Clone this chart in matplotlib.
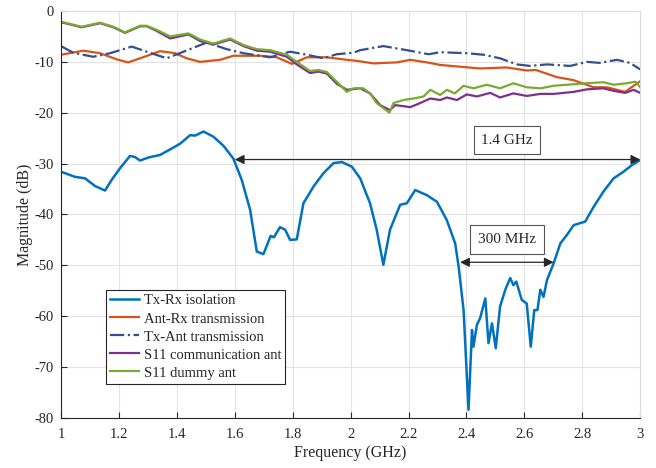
import matplotlib as mpl
mpl.use('Agg')
import numpy as np
import matplotlib.pyplot as plt

# values (frequency in GHz, magnitude in dB)
txrx_f = [1.0, 1.048, 1.083, 1.117, 1.152, 1.175, 1.204, 1.238, 1.255, 1.273, 1.302, 1.342,
          1.377, 1.411, 1.446, 1.463, 1.492, 1.526, 1.561, 1.595, 1.624, 1.653, 1.676, 1.699,
          1.724, 1.735, 1.756, 1.774, 1.791, 1.814, 1.837, 1.872, 1.906, 1.941, 1.970, 2.004,
          2.033, 2.067, 2.090, 2.113, 2.136, 2.171, 2.194, 2.223, 2.263, 2.298, 2.332, 2.361,
          2.373, 2.390, 2.407, 2.419, 2.424, 2.436, 2.447, 2.465, 2.476, 2.488, 2.501, 2.516,
          2.534, 2.551, 2.562, 2.572, 2.591, 2.608, 2.622, 2.634, 2.645, 2.655, 2.666, 2.678,
          2.701, 2.724, 2.747, 2.770, 2.810, 2.839, 2.873, 2.908, 2.942, 2.971, 3.0]
txrx_db = [-31.6, -32.6, -32.9, -34.4, -35.3, -33.2, -30.9, -28.5, -28.7, -29.4, -28.8, -28.3,
           -27.2, -26.1, -24.4, -24.5, -23.7, -24.7, -26.5, -29.0, -33.2, -39.1, -47.3, -47.8,
           -44.2, -44.5, -42.5, -43.0, -45.0, -44.9, -37.8, -34.5, -31.9, -29.9, -29.7, -30.6,
           -32.9, -37.8, -43.0, -49.9, -43.0, -38.1, -37.8, -35.2, -36.2, -37.5, -41.1, -45.7,
           -50.3, -58.8, -78.4, -62.7, -66.0, -61.7, -60.4, -56.5, -65.3, -61.4, -66.3, -58.1,
           -54.8, -52.5, -53.9, -53.2, -56.8, -57.5, -66.0, -58.8, -58.8, -54.8, -56.2, -52.9,
           -49.6, -45.7, -44.0, -42.1, -41.4, -38.5, -35.5, -32.9, -31.6, -30.3, -29.3]

antrx_f = [1.0, 1.077, 1.135, 1.192, 1.232, 1.273, 1.342, 1.394, 1.434, 1.480, 1.549, 1.595,
           1.687, 1.745, 1.797, 1.849, 1.918, 1.987, 2.021, 2.079, 2.160, 2.206, 2.263, 2.309,
           2.367, 2.447, 2.539, 2.608, 2.640, 2.712, 2.770, 2.839, 2.885, 2.948, 2.977, 3.0]
antrx_db = [-8.6, -7.8, -8.3, -9.5, -10.1, -9.3, -7.9, -8.3, -9.3, -10.0, -9.6, -8.8,
            -8.8, -9.1, -10.4, -9.1, -9.1, -9.6, -9.8, -10.3, -10.1, -9.6, -10.1, -10.6,
            -10.9, -11.3, -11.1, -11.7, -11.6, -13.0, -13.6, -15.0, -15.0, -15.9, -14.7, -13.8]

txant_f = [1.0, 1.042, 1.111, 1.169, 1.244, 1.296, 1.365, 1.423, 1.503, 1.572, 1.630, 1.722,
           1.791, 1.849, 1.906, 1.952, 2.010, 2.033, 2.113, 2.194, 2.269, 2.309, 2.401, 2.459,
           2.516, 2.574, 2.620, 2.678, 2.758, 2.816, 2.860, 2.919, 2.965, 3.0]
txant_db = [-6.9, -8.2, -9.0, -8.3, -7.0, -8.0, -9.3, -8.0, -6.2, -7.5, -8.3, -9.1,
            -8.0, -8.6, -9.3, -8.5, -8.2, -7.7, -6.9, -7.7, -8.5, -8.1, -8.3, -8.6,
            -9.3, -10.5, -10.8, -10.5, -10.8, -10.0, -10.2, -9.6, -10.2, -11.5]

s11_comm_f = [1.0, 1.071, 1.135, 1.181, 1.221, 1.273, 1.296, 1.330, 1.377, 1.440, 1.480, 1.526,
              1.584, 1.630, 1.676, 1.722, 1.780, 1.814, 1.860, 1.889, 1.918, 1.952, 1.987,
              2.033, 2.067, 2.102, 2.136, 2.154, 2.180, 2.206, 2.240, 2.275, 2.309, 2.332,
              2.367, 2.401, 2.436, 2.482, 2.516, 2.562, 2.608, 2.655, 2.701, 2.770, 2.816,
              2.873, 2.908, 2.948, 2.977, 3.0]
s11_comm_db = [-2.2, -3.2, -2.4, -3.2, -4.3, -3.0, -3.0, -3.9, -5.4, -4.6, -5.9, -6.6,
               -5.6, -6.9, -7.8, -8.0, -9.0, -10.5, -12.2, -11.9, -12.3, -14.3, -15.5,
               -15.2, -16.2, -18.5, -19.5, -18.5, -18.7, -18.9, -18.1, -17.2, -17.5, -17.0,
               -17.5, -16.4, -16.8, -16.1, -17.0, -16.2, -16.7, -16.3, -16.3, -15.9, -15.4,
               -15.2, -15.7, -16.1, -15.5, -16.1]

s11_dummy_f = [1.0, 1.071, 1.135, 1.181, 1.221, 1.273, 1.296, 1.330, 1.377, 1.440, 1.480, 1.526,
               1.584, 1.630, 1.676, 1.722, 1.780, 1.814, 1.860, 1.889, 1.918, 1.952, 1.987,
               2.010, 2.044, 2.067, 2.090, 2.113, 2.134, 2.148, 2.182, 2.217, 2.252, 2.275,
               2.309, 2.332, 2.360, 2.390, 2.424, 2.470, 2.516, 2.562, 2.608, 2.655, 2.701,
               2.770, 2.816, 2.873, 2.908, 2.954, 2.983, 3.0]
s11_dummy_db = [-2.1, -3.1, -2.3, -3.1, -4.2, -2.9, -2.9, -3.7, -5.0, -4.4, -5.6, -6.4,
                -5.4, -6.7, -7.5, -7.7, -8.6, -10.0, -11.8, -11.6, -12.0, -13.9, -15.9,
                -15.2, -15.2, -16.2, -18.1, -19.1, -20.0, -18.1, -17.5, -17.2, -16.8, -15.5,
                -16.5, -15.5, -16.2, -14.7, -15.2, -14.5, -15.2, -14.2, -15.0, -15.2, -14.7,
                -14.4, -14.2, -14.0, -14.5, -14.2, -13.9, -15.0]

labels = ['Tx-Rx isolation', 'Ant-Rx transmission', 'Tx-Ant transmission',
          'S11 communication ant', 'S11 dummy ant']

plt.rcParams['font.family'] = ['Liberation Serif', 'DejaVu Serif']
plt.rcParams['font.size'] = 10.5
plt.rcParams['axes.unicode_minus'] = False
plt.rcParams['text.color'] = '#262626'
plt.rcParams['axes.labelcolor'] = '#262626'
plt.rcParams['xtick.color'] = '#262626'
plt.rcParams['ytick.color'] = '#262626'

fig = plt.figure(figsize=(6.56, 4.68), dpi=100)
ax = fig.add_axes([0.093, 0.107, 0.883, 0.8695])

ax.plot(txrx_f, txrx_db, color='#0072BD', lw=1.8, label=labels[0])
ax.plot(antrx_f, antrx_db, color='#D95319', lw=1.6, label=labels[1])
ax.plot(txant_f, txant_db, color='#34508C', lw=1.6, ls='-.', label=labels[2])
ax.plot(s11_comm_f, s11_comm_db, color='#7E2F8E', lw=1.6, label=labels[3])
ax.plot(s11_dummy_f, s11_dummy_db, color='#77AC30', lw=1.6, label=labels[4])

ax.set_xlim(1, 3)
ax.set_ylim(-80, 0)
ax.set_xticks(np.arange(1, 3.01, 0.2))
ax.set_xticklabels(['1', '1.2', '1.4', '1.6', '1.8', '2', '2.2', '2.4', '2.6', '2.8', '3'])
ax.set_yticks(np.arange(-80, 1, 10))
ax.tick_params(direction='in', length=4, width=0.8, pad=5)
ax.tick_params(axis='x', pad=7)
ax.grid(True, color='#e3e3e3', lw=0.8)
ax.set_axisbelow(True)
for s in ['top', 'right']:
    ax.spines[s].set_color('#dcdcdc')
for s in ['left', 'bottom']:
    ax.spines[s].set_color('#262626')
    ax.spines[s].set_linewidth(0.8)

ax.set_xlabel('Frequency (GHz)', fontsize=11.5, labelpad=3)
ax.set_ylabel('Magnitude (dB)', fontsize=11.5, labelpad=1)

# bandwidth annotations
arrow = dict(arrowstyle='<|-|>', color='#262626', lw=0.9, mutation_scale=14,
             shrinkA=0, shrinkB=0)
ax.annotate('', xy=(1.6, -29.2), xytext=(3.0, -29.2), arrowprops=arrow)
ax.annotate('', xy=(2.378, -49.4), xytext=(2.701, -49.4), arrowprops=arrow)
box = dict(boxstyle='square,pad=0.5', fc='white', ec='#555555', lw=0.8)
ax.text(2.54, -25.4, '1.4 GHz', fontsize=11, ha='center', va='center', bbox=box)
ax.text(2.54, -44.9, '300 MHz', fontsize=11, ha='center', va='center', bbox=box)

leg = ax.legend(loc='lower left', bbox_to_anchor=(0.077, 0.0835), fancybox=False,
                framealpha=1, edgecolor='#262626', borderaxespad=0, handlelength=2.0,
                handletextpad=0.3, labelspacing=0.33, borderpad=0.3)
leg.get_frame().set_linewidth(0.8)

fig.savefig('out.png', dpi=100)
